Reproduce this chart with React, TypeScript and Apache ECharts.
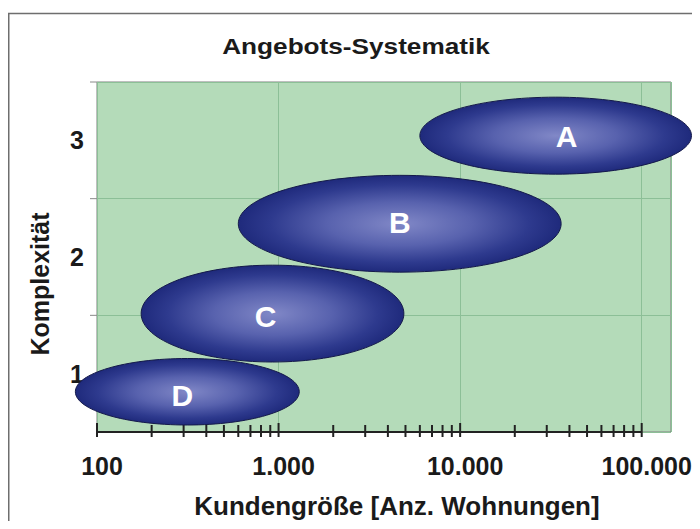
import React, { useEffect, useRef } from "react";
import * as echarts from "echarts";

// ---- data ----
const categories = ["A", "B", "C", "D"];
const xStart = [6000, 600, 175, 76];
const xEnd = [188000, 36000, 4900, 1300];
const yLow = [2.71, 1.87, 1.1, 0.56];
const yHigh = [3.37, 2.7, 1.93, 1.13];
const xTickLabels = ["100", "1.000", "10.000", "100.000"];
const majorTicks = [100, 1000, 10000, 100000];
const minorTicks = [
  200, 300, 400, 500, 600, 700, 800, 900,
  2000, 3000, 4000, 5000, 6000, 7000, 8000, 9000,
  20000, 30000, 40000, 50000, 60000, 70000, 80000, 90000,
];
const yLabels = [1, 2, 3];
const yTicks = [1.5, 2.5, 3.5];

const FONT = '"Liberation Sans", Arial, sans-serif';
// label nudges inside the ellipses (pixels)
const LABEL_DX = [11, 0, -7, -5];
const LABEL_DY = [1, -1, 3, 4];

export default function App() {
  const ref = useRef<HTMLDivElement>(null);
  useEffect(() => {
    if (!ref.current) return;
    const chart = echarts.init(ref.current, null, { renderer: "svg" });
    const ellipseData = categories.map((c, i) => [xStart[i], xEnd[i], yLow[i], yHigh[i], i]);
    const tickData = [
      ...majorTicks.map((v) => [v, 1]),
      ...minorTicks.map((v) => [v, 0]),
    ];
    const option: any = {
      animation: false,
      backgroundColor: "#ffffff",
      grid: {
        left: 89,
        top: 74,
        right: 29,
        bottom: 89,
        show: true,
        backgroundColor: "#b4dbb9",
        borderColor: "#7f7f7f",
        borderWidth: 1,
      },
      graphic: [
        {
          type: "polyline",
          shape: { points: [[0.75, 600], [0.75, 5.5], [700, 5.5]] },
          style: { stroke: "#6e6e6e", lineWidth: 1.5, fill: "none" },
          z: 100,
        },
        {
          type: "text",
          x: 348,
          y: 38,
          scaleX: 1.19,
          style: {
            text: "Angebots-Systematik",
            font: `bold 22px ${FONT}`,
            fill: "#1a1a1a",
            align: "center",
            verticalAlign: "middle",
          },
        },
        {
          type: "text",
          x: 389,
          y: 498,
          style: {
            text: "Kundengröße [Anz. Wohnungen]",
            font: `bold 26px ${FONT}`,
            fill: "#1a1a1a",
            align: "center",
            verticalAlign: "middle",
          },
        },
        {
          type: "text",
          x: 32,
          y: 276,
          rotation: Math.PI / 2,
          style: {
            text: "Komplexität",
            font: `bold 25px ${FONT}`,
            fill: "#1a1a1a",
            align: "center",
            verticalAlign: "middle",
          },
        },
      ],
      xAxis: {
        type: "log",
        logBase: 10,
        min: 100,
        max: 145000,
        axisLine: { show: false },
        axisTick: { show: false },
        axisLabel: {
          margin: 21,
          showMaxLabel: false,
          color: "#1a1a1a",
          fontFamily: FONT,
          fontWeight: "bold",
          fontSize: 25,
          padding: [0, 0, 0, 10],
          formatter: (v: number) => {
            const idx = majorTicks.findIndex((m) => Math.abs(m - v) / m < 1e-6);
            return idx >= 0 ? xTickLabels[idx] : "";
          },
        },
        splitLine: { show: true, lineStyle: { color: "#8cbf97", width: 1 } },
      },
      yAxis: {
        type: "value",
        min: 0.5,
        max: 3.5,
        interval: 0.5,
        axisLine: { show: false },
        axisTick: { show: false },
        axisLabel: {
          margin: 13,
          color: "#1a1a1a",
          fontFamily: FONT,
          fontWeight: "bold",
          fontSize: 25,
          formatter: (v: number) => {
            const idx = yLabels.findIndex((m) => Math.abs(m - v) < 1e-6);
            return idx >= 0 ? String(yLabels[idx]) : "";
          },
        },
        splitLine: {
          show: true,
          lineStyle: { color: ["#8cbf97", "rgba(0,0,0,0)"], width: 1 },
        },
      },
      series: [
        {
          type: "custom",
          silent: true,
          z: 3,
          data: yTicks.map((v) => [100, v]),
          renderItem: (params: any, api: any) => {
            const p = api.coord([100, api.value(1)]);
            return {
              type: "line",
              shape: { x1: p[0] - 7, y1: p[1], x2: p[0], y2: p[1] },
              style: { stroke: "#8a8a8a", lineWidth: 1 },
            };
          },
        },
        {
          type: "custom",
          silent: true,
          z: 3,
          data: [[majorTicks[0], majorTicks[majorTicks.length - 1]]],
          renderItem: (params: any, api: any) => {
            const p1 = api.coord([api.value(0), 0.5]);
            const p2 = api.coord([api.value(1), 0.5]);
            return {
              type: "line",
              shape: { x1: p1[0], y1: p1[1], x2: p2[0], y2: p2[1] },
              style: { stroke: "#222222", lineWidth: 2 },
            };
          },
        },
        {
          type: "custom",
          silent: true,
          z: 3,
          data: tickData,
          renderItem: (params: any, api: any) => {
            const p = api.coord([api.value(0), 0.5]);
            const major = api.value(1) === 1;
            return {
              type: "line",
              shape: { x1: p[0], y1: p[1] - (major ? 9 : 7), x2: p[0], y2: p[1] + 5 },
              style: { stroke: "#222222", lineWidth: 2 },
            };
          },
        },
        {
          type: "custom",
          silent: true,
          z: 5,
          data: ellipseData,
          renderItem: (params: any, api: any) => {
            const p1 = api.coord([api.value(0), api.value(2)]);
            const p2 = api.coord([api.value(1), api.value(3)]);
            const cx = (p1[0] + p2[0]) / 2;
            const cy = (p1[1] + p2[1]) / 2;
            const rx = Math.abs(p2[0] - p1[0]) / 2;
            const ry = Math.abs(p2[1] - p1[1]) / 2;
            const i = api.value(4);
            return {
              type: "group",
              children: [
                {
                  type: "ellipse",
                  shape: { cx, cy, rx, ry },
                  style: {
                    fill: new echarts.graphic.RadialGradient(0.5, 0.5, 0.5, [
                      { offset: 0, color: "#8188c7" },
                      { offset: 0.45, color: "#5862ae" },
                      { offset: 0.8, color: "#2e3a8e" },
                      { offset: 1, color: "#1f2a7c" },
                    ]),
                    stroke: "#151a4a",
                    lineWidth: 1,
                  },
                },
                {
                  type: "text",
                  x: cx + LABEL_DX[i],
                  y: cy + LABEL_DY[i],
                  style: {
                    text: categories[i],
                    fill: "#ffffff",
                    font: `bold 30px ${FONT}`,
                    align: "center",
                    verticalAlign: "middle",
                  },
                },
              ],
            };
          },
        },
      ],
    };
    chart.setOption(option);
    return () => chart.dispose();
  }, []);
  return <div ref={ref} style={{ width: 692, height: 513 }} />;
}
